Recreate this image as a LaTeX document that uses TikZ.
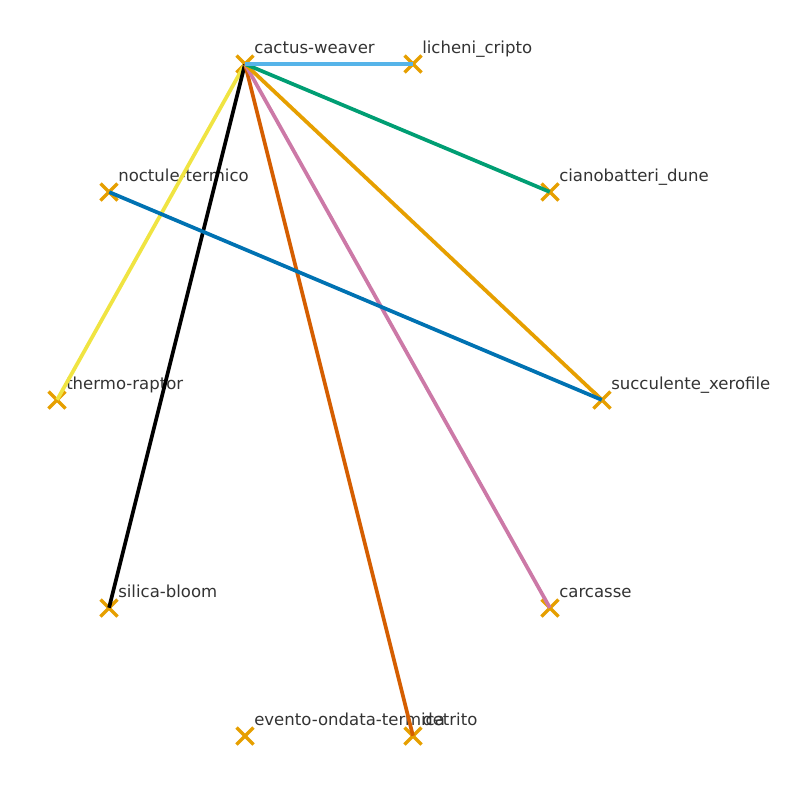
\documentclass[tikz,border=0pt]{standalone}
\usepackage{fontspec}
\setmainfont{DejaVu Sans}
\usetikzlibrary{calc}
\definecolor{lbl}{HTML}{333333}
\definecolor{mk}{HTML}{E69F00}
\definecolor{cSky}{HTML}{56B4E9}
\definecolor{cGreen}{HTML}{009E73}
\definecolor{cOrange}{HTML}{E69F00}
\definecolor{cPink}{HTML}{CC79A7}
\definecolor{cVerm}{HTML}{D55E00}
\definecolor{cYellow}{HTML}{F0E442}
\definecolor{cBlue}{HTML}{0072B2}
\tikzset{
  vtx/.style={inner sep=0pt, minimum size=0pt},
  lab/.style={anchor=base west, text=lbl, font=\fontsize{12.4pt}{14pt}\selectfont, inner sep=0pt},
  mkline/.style={draw=mk, line width=2.6pt},
  edge/.style={line width=2.8pt}
}
\begin{document}
\begin{tikzpicture}[x=0.75pt,y=-0.75pt]
\useasboundingbox (0,0) rectangle (800,800);
\foreach \n/\x/\y/\t in {
  cw/245/64/cactus-weaver,
  lc/413/64/licheni\_cripto,
  nt/109/192/noctule-termico,
  cd/550/192/cianobatteri\_dune,
  tr/57/400/thermo-raptor,
  sx/602/400/succulente\_xerofile,
  sb/109/608/silica-bloom,
  ca/550/608/carcasse,
  eo/245/736/evento-ondata-termica,
  de/413/736/detrito}{
  \node[vtx] (\n) at (\x,\y) {};
  \draw[mkline] ($(\x,\y)+(-8.5,-8.5)$) -- ($(\x,\y)+(8.5,8.5)$);
  \draw[mkline] ($(\x,\y)+(-8.5,8.5)$) -- ($(\x,\y)+(8.5,-8.5)$);
  \node[lab] (\n-l) at ($(\x,\y)+(9,-11)$) {\t};
}
\draw[edge, cYellow] (cw) -- (tr);
\draw[edge, black] (cw) -- (sb);
\draw[edge, cVerm] (cw) -- (de);
\draw[edge, cPink] (cw) -- (ca);
\draw[edge, cOrange] (cw) -- (sx);
\draw[edge, cGreen] (cw) -- (cd);
\draw[edge, cSky] (cw) -- (lc);
\draw[edge, cBlue] (nt) -- (sx);
\end{tikzpicture}
\end{document}
